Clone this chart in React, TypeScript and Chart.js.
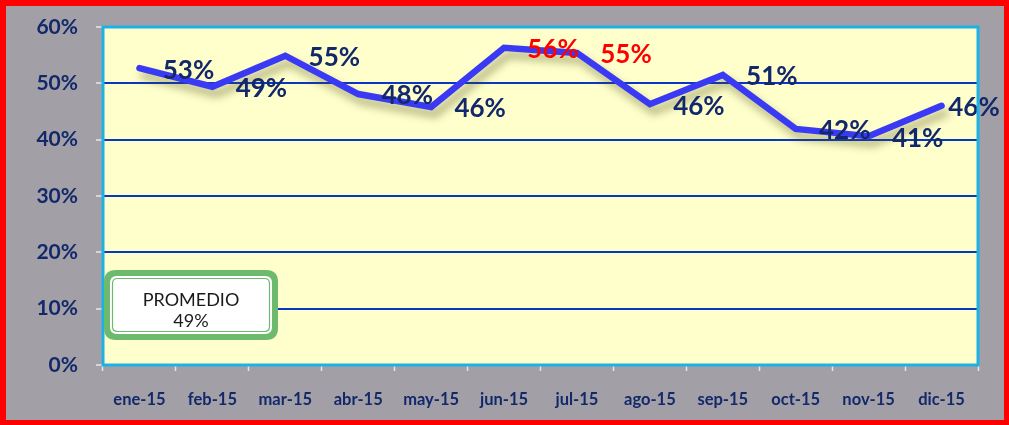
import React, { useEffect, useRef } from "react";
import { Chart, registerables } from "chart.js";

Chart.register(...registerables);

const categories = ["ene-15", "feb-15", "mar-15", "abr-15", "may-15", "jun-15", "jul-15", "ago-15", "sep-15", "oct-15", "nov-15", "dic-15"];
const values = [52.7, 49.4, 54.9, 48.1, 45.8, 56.3, 55.4, 46.3, 51.5, 41.9, 40.6, 46.0];
const valueLabels = ["53%", "49%", "55%", "48%", "46%", "56%", "55%", "46%", "51%", "42%", "41%", "46%"];
const highlighted = [false, false, false, false, false, true, true, false, false, false, false, false];
const yTicks = [0, 10, 20, 30, 40, 50, 60];
const averageTitle = "PROMEDIO";
const averageValue = "49%";

const NAVY = "#12286a";
const FONT = "Lato, 'Open Sans', sans-serif";

function roundRect(ctx: CanvasRenderingContext2D, x: number, y: number, w: number, h: number, r: number) {
  ctx.beginPath();
  ctx.moveTo(x + r, y);
  ctx.lineTo(x + w - r, y);
  ctx.quadraticCurveTo(x + w, y, x + w, y + r);
  ctx.lineTo(x + w, y + h - r);
  ctx.quadraticCurveTo(x + w, y + h, x + w - r, y + h);
  ctx.lineTo(x + r, y + h);
  ctx.quadraticCurveTo(x, y + h, x, y + h - r);
  ctx.lineTo(x, y + r);
  ctx.quadraticCurveTo(x, y, x + r, y);
  ctx.closePath();
}

const bgPlugin = {
  id: "plotBg",
  beforeDraw(chart: any) {
    const { ctx, chartArea: a } = chart;
    ctx.save();
    ctx.fillStyle = "#ffffcc";
    ctx.fillRect(a.left, a.top, a.right - a.left, a.bottom - a.top);
    ctx.restore();
  },
  afterDraw(chart: any) {
    const { ctx, chartArea: a } = chart;
    ctx.save();
    ctx.strokeStyle = "#1cb2e8";
    ctx.lineWidth = 3;
    ctx.strokeRect(a.left, a.top, a.right - a.left, a.bottom - a.top);
    ctx.restore();
  },
};

const shadowPlugin = {
  id: "lineShadow",
  beforeDatasetsDraw(chart: any) {
    const ctx = chart.ctx;
    ctx.save();
    ctx.shadowColor = "rgba(70,70,20,0.45)";
    ctx.shadowBlur = 8;
    ctx.shadowOffsetX = 4;
    ctx.shadowOffsetY = 7;
  },
  afterDatasetsDraw(chart: any) {
    chart.ctx.restore();
  },
};

const labelsPlugin = {
  id: "valueLabels",
  afterDatasetsDraw(chart: any) {
    const { ctx } = chart;
    const meta = chart.getDatasetMeta(0);
    ctx.save();
    ctx.font = `bold 26px ${FONT}`;
    ctx.textAlign = "center";
    ctx.textBaseline = "middle";
    meta.data.forEach((pt: any, i: number) => {
      ctx.fillStyle = highlighted[i] ? "#ff0000" : NAVY;
      const cx = Math.min(pt.x + 49, chart.width - 30);
      ctx.fillText(valueLabels[i], cx, pt.y + 2);
    });
    ctx.restore();
  },
};

const avgPlugin = {
  id: "avgBox",
  afterDraw(chart: any) {
    const { ctx, chartArea: a } = chart;
    const x = a.left + 1;
    const y = a.bottom - 95;
    const w = 174;
    const h = 70;
    ctx.save();
    ctx.fillStyle = "#6db96e";
    roundRect(ctx, x, y, w, h, 12);
    ctx.fill();
    ctx.fillStyle = "#ffffff";
    roundRect(ctx, x + 6, y + 6, w - 12, h - 12, 7);
    ctx.fill();
    ctx.strokeStyle = "#6db96e";
    ctx.lineWidth = 1.2;
    roundRect(ctx, x + 8.5, y + 8.5, w - 17, h - 17, 5);
    ctx.stroke();
    ctx.fillStyle = "#1a1a1a";
    ctx.font = `18px ${FONT}`;
    ctx.textAlign = "center";
    ctx.textBaseline = "middle";
    ctx.fillText(averageTitle, x + w / 2, y + 30);
    ctx.fillText(averageValue, x + w / 2, y + 51);
    ctx.restore();
  },
};

export default function App() {
  const ref = useRef<HTMLCanvasElement>(null);
  useEffect(() => {
    if (!ref.current) return;
    const chart = new Chart(ref.current, {
      type: "line",
      data: {
        labels: categories,
        datasets: [
          {
            data: values,
            borderColor: "#3a3af5",
            borderWidth: 6.5,
            pointRadius: 0,
            tension: 0,
            borderCapStyle: "round",
            borderJoinStyle: "miter",
          },
        ],
      },
      options: {
        animation: false,
        responsive: true,
        maintainAspectRatio: false,
        layout: { padding: { left: 0, right: 26, top: 21, bottom: 0 } },
        plugins: { legend: { display: false }, tooltip: { enabled: false } },
        scales: {
          x: {
            offset: true,
            grid: { offset: true, drawOnChartArea: false, drawTicks: true, tickLength: 6, tickColor: "#e6e6e6", tickWidth: 1.5 },
            border: { display: false },
            ticks: { color: NAVY, font: { family: FONT, size: 16.5, weight: "bold" }, padding: 19, maxRotation: 0 },
            afterFit(scale: any) {
              scale.height = 55;
              scale.paddingLeft = 0;
              scale.paddingRight = 0;
            },
          },
          y: {
            min: 0,
            max: 60,
            afterBuildTicks(scale: any) {
              scale.ticks = yTicks.map((v) => ({ value: v }));
            },
            grid: {
              color: (c: any) => (c.tick && (c.tick.value === 0 || c.tick.value === 60) ? "rgba(0,0,0,0)" : "#0a36c4"),
              lineWidth: 2,
              tickLength: 7,
              tickColor: "#e6e6e6",
              tickWidth: 1.5,
            },
            border: { display: false },
            ticks: {
              color: NAVY,
              font: { family: FONT, size: 21, weight: "bold" },
              padding: 18,
              callback: (v: any) => `${v}%`,
            },
            afterFit(scale: any) {
              scale.width = 97;
              scale.paddingTop = 0;
              scale.paddingBottom = 0;
            },
          },
        },
      },
      plugins: [bgPlugin, shadowPlugin, labelsPlugin, avgPlugin],
    } as any);
    return () => chart.destroy();
  }, []);
  return (
    <div
      style={{
        position: "fixed",
        left: 0,
        top: 0,
        width: 1009,
        height: 425,
        boxSizing: "border-box",
        borderStyle: "solid",
        borderColor: "#ff0000",
        borderWidth: "6px 5px 5px 6px",
        background: "#a2a0a6",
      }}
    >
      <canvas ref={ref} />
    </div>
  );
}
